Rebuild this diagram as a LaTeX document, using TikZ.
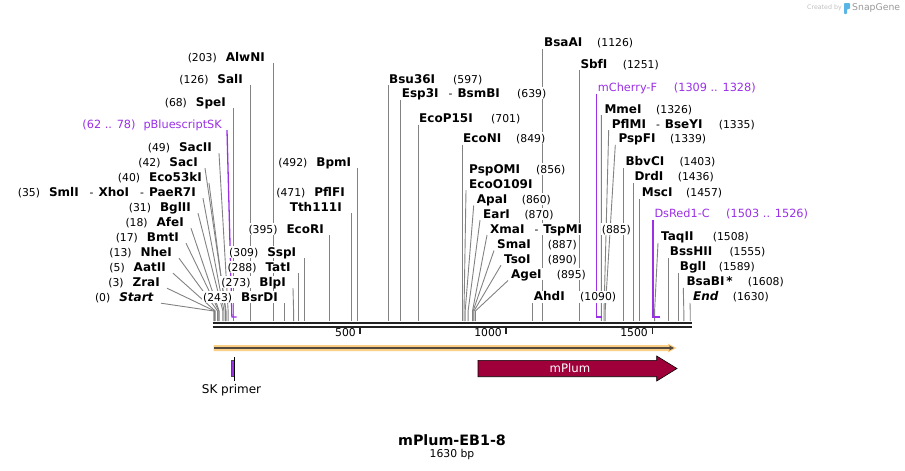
\documentclass[tikz,border=0pt]{standalone}
\usepackage{fontspec}
\setmainfont{DejaVu Sans}
\usetikzlibrary{arrows.meta,backgrounds}

\definecolor{sitegray}{RGB}{130,130,130}
\definecolor{featpurple}{RGB}{155,48,230}
\definecolor{bbcolor}{RGB}{34,34,34}
\definecolor{bandorange}{RGB}{250,208,135}
\definecolor{banddark}{RGB}{85,72,60}
\definecolor{plumred}{RGB}{160,0,58}
\definecolor{logoblue}{RGB}{90,180,230}

\newcommand{\enzfont}{\fontsize{12}{14}\selectfont\bfseries}
\newcommand{\posfont}{\fontsize{10.8}{13}\selectfont\mdseries}
\newcommand{\featfont}{\fontsize{11.3}{13}\selectfont}
\newcommand{\posn}[1]{{\posfont #1}}

\tikzset{
  enzl/.style={anchor=east, fill=white, inner sep=1pt, text height=9pt, text depth=1pt, font=\enzfont},
  enzr/.style={enzl, anchor=west},
  posr/.style={anchor=west, fill=white, inner sep=1pt, text height=9pt, text depth=1pt, font=\posfont},
  featl/.style={enzl, font=\featfont, text=featpurple},
  featr/.style={featl, anchor=west},
  featpos/.style={posr, font=\featfont, text=featpurple},
  tickl/.style={anchor=east, inner sep=1pt, font=\posfont},
  site/.style={draw=sitegray, line width=0.9pt},
  featline/.style={draw=featpurple, line width=1.3pt},
}

\begin{document}
\begin{tikzpicture}[x=1pt,y=-1pt]
\useasboundingbox (0,0) rectangle (905,471);

% cut positions on the backbone
\foreach \n/\b in {start/0, zra/3, aat/5, nhe/13, bmt/17, afe/18, bgl2/31, sml/35, eco53/40,
    sac/42, sac2/49, spe/68, sal/126, alwn/203, bsrd/243, blp/273, tat/288, ssp/309, ecor/395,
    tth/471, bpm/492, bsu/597, esp/639, ecop/701, econ/849, ecoo/856, apa/860, ear/870, xma/885,
    sma/887, tso/890, age/895, ahd/1090, bsaa/1126, sbf/1251, mme/1326, pflm/1335, pspf/1339,
    bbv/1403, drd/1436, msc/1457, taq/1508, bss/1555, bgli/1589, bsab/1608, endl/1630}
  \coordinate (s-\n) at ({213.8+0.2923*\b},321);
\coordinate (f-pbs) at ({213.8+0.2923*62},317);
\coordinate (f-pbs2) at ({213.8+0.2923*78},317);
\coordinate (f-mch) at ({213.8+0.2923*1309},317);
\coordinate (f-mch2) at ({213.8+0.2923*1328},317);
\coordinate (f-dsr) at ({213.8+0.2923*1503},317);
\coordinate (f-dsr2) at ({213.8+0.2923*1526},317);

% labels left of their cuts
\node[enzl] (alwn) at (266,57) {\posn{(203)}\hspace{9pt}AlwNI};
\node[enzl] (sal) at (244,79) {\posn{(126)}\hspace{9pt}SalI};
\node[enzl] (spe) at (227,102) {\posn{(68)}\hspace{9pt}SpeI};
\node[featl] (pbs) at (223,124) {(62 .. 78)\hspace{8pt}pBluescriptSK};
\node[enzl] (sac2) at (213,147) {\posn{(49)}\hspace{9pt}SacII};
\node[enzl] (sac) at (199,162) {\posn{(42)}\hspace{9pt}SacI};
\node[enzl] (eco53) at (203,177) {\posn{(40)}\hspace{9pt}Eco53kI};
\node[enzl] (sml) at (197,192) {\posn{(35)}\hspace{9pt}SmlI\hspace{11pt}\posn{-}\hspace{5pt}XhoI\hspace{11pt}\posn{-}\hspace{5pt}PaeR7I};
\node[enzl] (bgl2) at (192,207) {\posn{(31)}\hspace{9pt}BglII};
\node[enzl] (afe) at (185,222) {\posn{(18)}\hspace{9pt}AfeI};
\node[enzl] (bmt) at (180,237) {\posn{(17)}\hspace{9pt}BmtI};
\node[enzl] (nhe) at (173,252) {\posn{(13)}\hspace{9pt}NheI};
\node[enzl] (aat) at (167,267) {\posn{(5)}\hspace{9pt}AatII};
\node[enzl] (zra) at (161,282) {\posn{(3)}\hspace{9pt}ZraI};
\node[enzl] (start) at (155,297) {\posn{(0)}\hspace{9pt}\textit{Start}};
\node[enzl] (bsrd) at (279,297) {\posn{(243)}\hspace{9pt}BsrDI};
\node[enzl] (blp) at (287,282) {\posn{(273)}\hspace{9pt}BlpI};
\node[enzl] (tat) at (291.7,267) {\posn{(288)}\hspace{9pt}TatI};
\node[enzl] (ssp) at (297.3,252) {\posn{(309)}\hspace{9pt}SspI};
\node[enzl] (ecor) at (325,229) {\posn{(395)}\hspace{9pt}EcoRI};
\node[enzl] (pflf) at (346,192) {\posn{(471)}\hspace{9pt}PflFI};
\node[enzl] (tth) at (343,207) {Tth111I};
\node[enzl] (bpm) at (352.3,162) {\posn{(492)}\hspace{9pt}BpmI};

% labels right of their cuts
\node[enzr] (bsu) at (388,79) {Bsu36I};
\node[posr] (p-bsu) at (452,79) {(597)};
\node[enzr] (esp) at (400.7,93.3) {Esp3I\hspace{10pt}\posn{-}\hspace{5pt}BsmBI};
\node[posr] (p-esp) at (516,93.3) {(639)};
\node[enzr] (ecop) at (418,118.3) {EcoP15I};
\node[posr] (p-ecop) at (490,118.3) {(701)};
\node[enzr] (econ) at (462,138.3) {EcoNI};
\node[posr] (p-econ) at (515,138.3) {(849)};
\node[enzr] (bsaa) at (543,42.7) {BsaAI};
\node[posr] (p-bsaa) at (596,42.7) {(1126)};
\node[enzr] (psp) at (468,169) {PspOMI};
\node[posr] (p-psp) at (535,169) {(856)};
\node[enzr] (ecoo) at (468,184) {EcoO109I};
\node[enzr] (apa) at (475.7,199.3) {ApaI};
\node[posr] (p-apa) at (520.7,199.3) {(860)};
\node[enzr] (ear) at (482,214) {EarI};
\node[posr] (p-ear) at (523.3,214) {(870)};
\node[enzr] (xma) at (489,229) {XmaI\hspace{10pt}\posn{-}\hspace{5pt}TspMI};
\node[posr] (p-xma) at (600.7,229) {(885)};
\node[enzr] (sma) at (496,244.3) {SmaI};
\node[posr] (p-sma) at (546.7,244.3) {(887)};
\node[enzr] (tso) at (503,259) {TsoI};
\node[posr] (p-tso) at (546.7,259) {(890)};
\node[enzr] (age) at (510,274.3) {AgeI};
\node[posr] (p-age) at (555.7,274.3) {(895)};
\node[enzr] (ahd) at (532.7,296.7) {AhdI};
\node[posr] (p-ahd) at (579,296.7) {(1090)};
\node[enzr] (sbf) at (579.3,64) {SbfI};
\node[posr] (p-sbf) at (621.7,64) {(1251)};
\node[featr] (mch) at (596.7,87.3) {mCherry-F};
\node[featpos] (p-mch) at (672.7,87.3) {(1309 .. 1328)};
\node[enzr] (mme) at (603.3,109) {MmeI};
\node[posr] (p-mme) at (655,109) {(1326)};
\node[enzr] (pflm) at (610.7,124) {PflMI\hspace{10pt}\posn{-}\hspace{5pt}BseYI};
\node[posr] (p-pflm) at (717.7,124) {(1335)};
\node[enzr] (pspf) at (617.3,138.7) {PspFI};
\node[posr] (p-pspf) at (669,138.7) {(1339)};
\node[enzr] (bbv) at (624.3,161.7) {BbvCI};
\node[posr] (p-bbv) at (678.3,161.7) {(1403)};
\node[enzr] (drd) at (633.3,176.7) {DrdI};
\node[posr] (p-drd) at (676.7,176.7) {(1436)};
\node[enzr] (msc) at (640.7,192.3) {MscI};
\node[posr] (p-msc) at (685,192.3) {(1457)};
\node[featr] (dsr) at (653.3,213.3) {DsRed1-C};
\node[featpos] (p-dsr) at (725,213.3) {(1503 .. 1526)};
\node[enzr] (taq) at (660,236.7) {TaqII};
\node[posr] (p-taq) at (711.7,236.7) {(1508)};
\node[enzr] (bss) at (668.7,251.7) {BssHII};
\node[posr] (p-bss) at (728.3,251.7) {(1555)};
\node[enzr] (bgli) at (678.7,266.7) {BglI};
\node[posr] (p-bgli) at (717.7,266.7) {(1589)};
\node[enzr] (bsab) at (685.3,281.7) {BsaBI\,*};
\node[posr] (p-bsab) at (746.7,281.7) {(1608)};
\node[enzr] (endl) at (692,296.7) {\textit{End}};
\node[posr] (p-endl) at (731.7,296.7) {(1630)};

\begin{pgfonlayer}{background}
% straight cut lines
\foreach \n in {alwn,sal,spe,bsrd,tat,ssp,ecor,tth,bpm,bsu,esp,ecop,econ,bsaa,ahd,sbf,bbv,drd,msc,bss,bgli}
  \draw[site] (s-\n |- \n.south) -- (s-\n);
% bent cut lines
\foreach \n in {start,zra,aat,nhe,bmt,afe,bgl2,sml,eco53,sac,sac2,blp}
  \draw[site] ([xshift=6pt]\n.south east) -- ([yshift=10pt]s-\n) -- (s-\n);
\foreach \n in {ecoo,apa,ear,xma,sma,tso,age,mme,pflm,pspf,taq,bsab,endl}
  \draw[site] ([xshift=-2pt]\n.south west) -- ([yshift=10pt]s-\n) -- (s-\n);
% primer sites
\draw[featline] ([xshift=4pt]pbs.south east) -- (f-pbs) -- (f-pbs2);
\draw[featline] (f-mch |- mch.south) -- (f-mch) -- (f-mch2);
\draw[featline] (f-dsr |- dsr.south) -- (f-dsr) -- (f-dsr2);
\end{pgfonlayer}

% backbone and ruler
\draw[bbcolor, line width=2.6pt] (212.7,323) -- (691.7,323);
\draw[bbcolor, line width=2pt] (212.7,326.7) -- (691.7,326.7);
\draw[bbcolor, line width=1.3pt] (360,327) -- (360,334);
\draw[bbcolor, line width=1.3pt] (505.9,327) -- (505.9,334);
\draw[bbcolor, line width=1.3pt] (652.3,327) -- (652.3,334);
\node[tickl] (t500) at (357,333) {500};
\node[tickl] (t1000) at (503,333) {1000};
\node[tickl] (t1500) at (649,333) {1500};

% sequence band
\fill[bandorange] (213.5,345) -- (668,345) -- (668,343.5) -- (676.5,348) -- (668,352.5) -- (668,351) -- (213.5,351) -- cycle;
\draw[banddark, line width=1.5pt, -{Stealth[length=5pt,width=5pt]}] (214,348) -- (674,348);

% features
\draw[black!70, line width=0.5pt, fill=featpurple] (231.6,360) rectangle (234.3,376);
\draw[black, line width=0.8pt] (234.6,357) -- (234.6,381);
\node[font=\fontsize{12}{14}\selectfont] (skp) at (231.5,390) {SK primer};
\draw[black, line width=0.6pt, fill=plumred] (478,360.3) -- (656.7,360.3) -- (656.7,356) -- (677,368.5) -- (656.7,381) -- (656.7,376.7) -- (478,376.7) -- cycle;
\node[text=white, font=\fontsize{11.7}{13}\selectfont] (mplum) at (570,368.5) {mPlum};

% title
\node[font=\fontsize{14.3}{16}\selectfont\bfseries] (title) at (452,440) {mPlum-EB1-8};
\node[font=\posfont] (len) at (452,454.5) {1630 bp};

% watermark
\node[anchor=east, inner sep=0pt, text=black!25, font=\fontsize{6.3}{7}\selectfont] (cby) at (842,8) {Created by};
\fill[logoblue, rounded corners=0.8pt] (844,3) -- (850,3) -- (850,9) -- (847,9) -- (847,14) -- (844,14) -- cycle;
\node[anchor=west, inner sep=0pt, text=black!40, font=\fontsize{9.3}{10}\selectfont] (sg) at (852,8) {SnapGene};
\end{tikzpicture}
\end{document}
